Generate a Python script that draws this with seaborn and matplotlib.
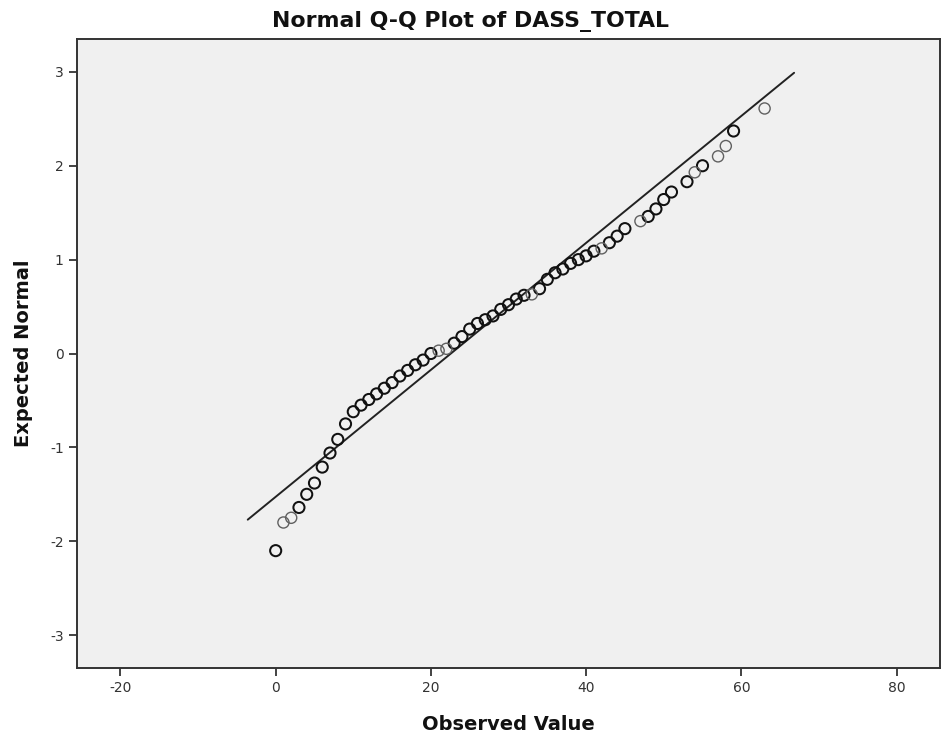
import matplotlib
matplotlib.use("Agg")
import matplotlib.pyplot as plt
import seaborn as sns
import pandas as pd

# Observed values (distinct DASS_TOTAL scores) and their expected normal values
observed = [0, 1, 2, 3, 4, 5, 6, 7, 8, 9, 10, 11, 12, 13, 14, 15, 16, 17, 18, 19,
            20, 21, 22, 23, 24, 25, 26, 27, 28, 29, 30, 31, 32, 33, 34, 35, 36, 37,
            38, 39, 40, 41, 42, 43, 44, 45, 47, 48, 49, 50, 51, 53, 54, 55, 57, 58,
            59, 63]
expected = [-2.10, -1.80, -1.75, -1.64, -1.50, -1.38, -1.21, -1.06, -0.915, -0.75,
            -0.62, -0.55, -0.49, -0.43, -0.37, -0.31, -0.24, -0.18, -0.12, -0.07,
            0.00, 0.03, 0.05, 0.11, 0.18, 0.26, 0.32, 0.36, 0.40, 0.47, 0.52, 0.58,
            0.62, 0.63, 0.69, 0.79, 0.86, 0.90, 0.96, 1.00, 1.04, 1.09, 1.12, 1.18,
            1.25, 1.33, 1.41, 1.46, 1.54, 1.64, 1.72, 1.83, 1.93, 2.00, 2.10, 2.21,
            2.37, 2.61]
# values observed only once (drawn lighter, as single overlapping circles)
single_values = [1, 2, 21, 22, 33, 42, 47, 54, 57, 58, 63]

# reference line endpoints
line_x = [-3.6, 66.8]
line_y = [-1.77, 2.99]

x_ticks = [-20, 0, 20, 40, 60, 80]
y_ticks = [-3, -2, -1, 0, 1, 2, 3]

df = pd.DataFrame({"Observed Value": observed, "Expected Normal": expected})
df["single"] = df["Observed Value"].isin(single_values)
line_df = pd.DataFrame({"x": line_x, "y": line_y})

sns.set_style("white")
plt.rcParams["font.family"] = ["DejaVu Sans"]
plt.rcParams["axes.unicode_minus"] = False

fig = plt.figure(figsize=(9.44, 7.40), dpi=100)
ax = fig.add_axes([77 / 944, 1 - 668 / 740, 863 / 944, 629 / 740])
ax.set_facecolor("#f0f0f0")

sns.lineplot(data=line_df, x="x", y="y", ax=ax, color="#222222", linewidth=1.4)
sns.scatterplot(data=df[~df["single"]], x="Observed Value", y="Expected Normal", ax=ax,
                marker="o", s=64, facecolor="none", edgecolor="#111111", linewidth=1.45, zorder=3)
sns.scatterplot(data=df[df["single"]], x="Observed Value", y="Expected Normal", ax=ax,
                marker="o", s=64, facecolor="none", edgecolor="#606060", linewidth=1.0, zorder=3)

ax.set_xlim(-25.6, 85.6)
ax.set_ylim(-3.35, 3.35)
ax.set_xticks(x_ticks)
ax.set_yticks(y_ticks)
ax.tick_params(axis="both", direction="out", length=6, width=1.2, color="#222222",
               labelsize=10, labelcolor="#333333", bottom=True, left=True)
for sp in ax.spines.values():
    sp.set_color("#333333")
    sp.set_linewidth(1.4)

ax.set_xlabel("Observed Value", fontsize=14, fontweight="bold", labelpad=14, color="#111111")
ax.set_ylabel("Expected Normal", fontsize=14, fontweight="bold", labelpad=12, color="#111111")
fig.suptitle("Normal Q-Q Plot of DASS_TOTAL", x=0.498, y=0.985, fontsize=15.8,
             fontweight="bold", color="#111111", va="top")

fig.savefig("out.png", dpi=100)
